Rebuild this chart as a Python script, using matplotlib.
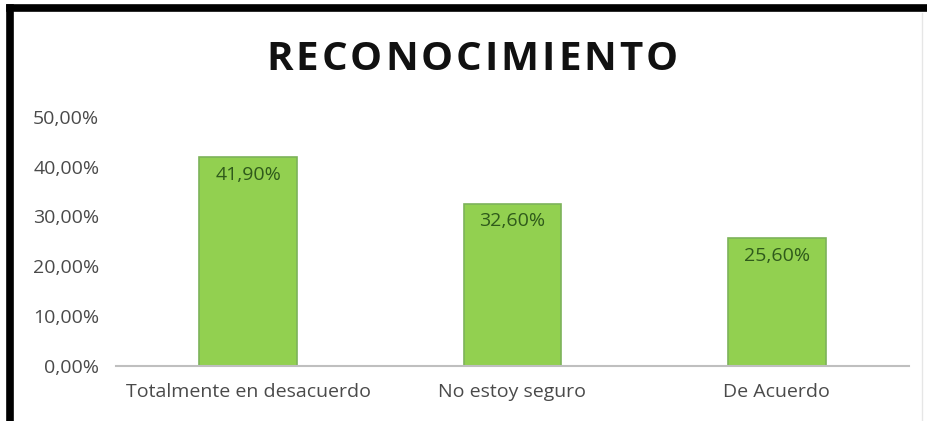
import matplotlib.pyplot as plt
from matplotlib.lines import Line2D
from matplotlib.ticker import FuncFormatter

# Datos del grafico
categorias = ["Totalmente en desacuerdo", "No estoy seguro", "De Acuerdo"]
porcentajes = [0.419, 0.326, 0.256]
etiquetas = ["41,90%", "32,60%", "25,60%"]
ticks_y = [0.0, 0.1, 0.2, 0.3, 0.4, 0.5]
titulo = "RECONOCIMIENTO"

plt.rcParams['font.family'] = ['Open Sans', 'DejaVu Sans']

fig = plt.figure(figsize=(9.28, 4.21), dpi=100)
ax = fig.add_axes([0.125, 0.1306, 0.8545, 0.592])

x = range(len(categorias))
barras = ax.bar(x, porcentajes, width=0.37, color="#92D050",
                edgecolor="#7DB35A", linewidth=1.2, zorder=2)

# Etiquetas de valor dentro de cada barra
for b, txt in zip(barras, etiquetas):
    ax.text(b.get_x() + b.get_width() / 2, b.get_height() - 0.036, txt,
            ha="center", va="center", fontsize=14, color="#2F5A1B")

ax.set_xlim(-0.5, len(categorias) - 0.5)
ax.set_ylim(0, 0.5)
ax.set_yticks(ticks_y)
ax.yaxis.set_major_formatter(FuncFormatter(lambda v, p: f"{v*100:.2f}%".replace(".", ",")))
ax.set_xticks(list(x))
ax.set_xticklabels(categorias)
ax.tick_params(axis="both", length=0, labelsize=14, colors="#4A4A4A")
ax.tick_params(axis="x", pad=12)
ax.tick_params(axis="y", pad=12)

for lado in ["top", "right", "left"]:
    ax.spines[lado].set_visible(False)
ax.spines["bottom"].set_color("#BFBFBF")
ax.spines["bottom"].set_linewidth(1.5)

# Titulo con espaciado entre letras
renderer = fig.canvas.get_renderer()
letras = [fig.text(0, 0, c, fontsize=29, fontweight="bold", color="#111111",
                   ha="left", va="center") for c in titulo]
espacio = 3.0
anchos = [t.get_window_extent(renderer).width for t in letras]
total = sum(anchos) + espacio * (len(letras) - 1)
px = 472 - total / 2
for t, w in zip(letras, anchos):
    t.set_position((px / 928, 1 - 60 / 421))
    px += w + espacio

# Marco negro superior e izquierdo
fig.add_artist(Line2D([0.0105, 1.0], [0.9805, 0.9805], color="black", linewidth=5.5,
                      transform=fig.transFigure))
fig.add_artist(Line2D([0.0105, 0.0105], [0.0, 0.9805], color="black", linewidth=5.5,
                      transform=fig.transFigure))
fig.add_artist(Line2D([0.9935, 0.9935], [0.0, 0.97], color="#E6E6E6", linewidth=1,
                      transform=fig.transFigure))

plt.savefig("out.png", dpi=100)
